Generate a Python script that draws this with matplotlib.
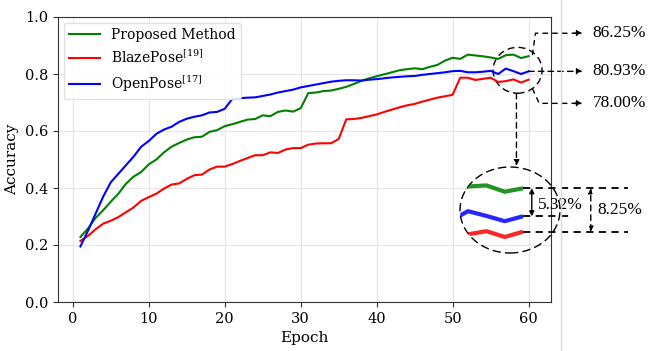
import matplotlib
matplotlib.use("Agg")
import matplotlib.pyplot as plt
import numpy as np
from matplotlib.lines import Line2D
from matplotlib.patches import Ellipse

# accuracy per epoch
epochs = np.arange(1, 61)
proposed = [0.228, 0.258, 0.295, 0.322, 0.352, 0.38, 0.415, 0.44, 0.456, 0.483,
            0.5, 0.525, 0.545, 0.558, 0.57, 0.578, 0.58, 0.597, 0.603, 0.617,
            0.624, 0.632, 0.64, 0.642, 0.655, 0.652, 0.667, 0.672, 0.668, 0.68,
            0.733, 0.735, 0.74, 0.742, 0.748, 0.755, 0.765, 0.776, 0.785, 0.792,
            0.799, 0.806, 0.813, 0.817, 0.82, 0.817, 0.825, 0.832, 0.847, 0.857,
            0.853, 0.868, 0.865, 0.862, 0.858, 0.853, 0.866, 0.868, 0.856, 0.8625]
blazepose = [0.214, 0.232, 0.255, 0.275, 0.285, 0.298, 0.315, 0.332, 0.355, 0.368,
             0.38, 0.398, 0.412, 0.416, 0.432, 0.445, 0.447, 0.465, 0.475, 0.475,
             0.484, 0.495, 0.505, 0.515, 0.515, 0.525, 0.523, 0.535, 0.54, 0.54,
             0.552, 0.556, 0.557, 0.557, 0.572, 0.641, 0.642, 0.646, 0.652, 0.658,
             0.667, 0.675, 0.683, 0.69, 0.695, 0.703, 0.71, 0.717, 0.722, 0.727,
             0.787, 0.787, 0.779, 0.783, 0.787, 0.772, 0.775, 0.781, 0.77, 0.78]
openpose = [0.195, 0.25, 0.31, 0.37, 0.42, 0.45, 0.48, 0.51, 0.545, 0.565,
            0.59, 0.605, 0.615, 0.632, 0.643, 0.65, 0.655, 0.665, 0.667, 0.678,
            0.713, 0.715, 0.717, 0.718, 0.723, 0.728, 0.735, 0.74, 0.745, 0.753,
            0.758, 0.763, 0.768, 0.773, 0.776, 0.778, 0.778, 0.777, 0.78, 0.782,
            0.785, 0.788, 0.79, 0.792, 0.793, 0.797, 0.8, 0.803, 0.806, 0.81,
            0.811, 0.806, 0.806, 0.808, 0.811, 0.8, 0.819, 0.81, 0.8, 0.8093]

series = [
    ("Proposed Method", proposed, "green"),
    (r"BlazePose$^{[19]}$", blazepose, "red"),
    (r"OpenPose$^{[17]}$", openpose, "blue"),
]

plt.rcParams["font.family"] = "DejaVu Serif"
plt.rcParams["mathtext.fontset"] = "dejavuserif"
ann_font = "Liberation Serif"
ann_size = 12.5
dash = (0, (4, 3))

fig = plt.figure(figsize=(6.5, 3.51), dpi=100)
ax = fig.add_axes([58 / 650, 1 - 302 / 351, 493 / 650, 285 / 351])

for name, ys, col in series:
    ax.plot(epochs, ys, color=col, lw=1.5, label=name)

ax.set_xlim(-1.95, 62.95)
ax.set_ylim(0, 1.0)
ax.autoscale(False)
ax.set_xticks(range(0, 61, 10))
ax.set_yticks(np.arange(0, 1.01, 0.2))
ax.grid(True, color="#e6e6e6", lw=0.8)
ax.set_axisbelow(True)
for s in ax.spines.values():
    s.set_color("#333333")
ax.tick_params(labelsize=10.5, length=3.5, color="#333333")
ax.set_xlabel("Epoch", fontsize=11)
ax.set_ylabel("Accuracy", fontsize=11)
ax.legend(loc="upper left", fontsize=10, handlelength=2.2, framealpha=0.9,
          edgecolor="#dddddd", borderaxespad=0.4)

# dashed circle around the last epochs
ax.add_patch(Ellipse((58.55, 0.813), 6.45, 0.161, fill=False, ec="black",
                     lw=1, ls=(0, (5, 3)), clip_on=False))

# value callouts on the right
g_end, o_end, b_end = proposed[-1], openpose[-1], blazepose[-1]
x_tip, x_txt = 67.1, 68.4
head = dict(arrowstyle="-|>", color="black", lw=1, ls=dash, mutation_scale=8,
            shrinkA=0, shrinkB=0)

ax.plot([60.5, 60.9, 66.6], [0.866, 0.943, 0.943], color="black", lw=1,
        ls=dash, clip_on=False)
ax.annotate("", xy=(x_tip, 0.943), xytext=(66.0, 0.943), arrowprops=head,
            annotation_clip=False)
ax.text(x_txt, 0.943, f"{g_end * 100:.2f}%", va="center", fontsize=ann_size,
        family=ann_font, clip_on=False)

ax.annotate("", xy=(x_tip, o_end), xytext=(60.0, o_end), arrowprops=head,
            annotation_clip=False)
ax.text(x_txt, o_end, f"{o_end * 100:.2f}%", va="center", fontsize=ann_size,
        family=ann_font, clip_on=False)

ax.plot([60.5, 61.4, 66.6], [0.749, 0.697, 0.697], color="black", lw=1,
        ls=dash, clip_on=False)
ax.annotate("", xy=(x_tip, 0.697), xytext=(66.0, 0.697), arrowprops=head,
            annotation_clip=False)
ax.text(x_txt, 0.697, f"{b_end * 100:.2f}%", va="center", fontsize=ann_size,
        family=ann_font, clip_on=False)

# arrow down to magnified lens
ax.annotate("", xy=(58.4, 0.478), xytext=(58.4, 0.732), arrowprops=head,
            annotation_clip=False)

# magnified lens
lens = fig.add_axes([460 / 650, 1 - 253 / 351, 100 / 650, 86 / 351])
lens.axis("off")
lens.set_xlim(56.56, 62.02)
lens.set_ylim(0.7395, 0.903)
lens.autoscale(False)
rim = Ellipse((0.5, 0.5), 1, 1, transform=lens.transAxes, fill=False,
              ec="black", lw=1, ls=(0, (6, 3)), clip_on=False)
lens.add_patch(rim)
for name, ys, col in series:
    ln, = lens.plot(epochs, ys, color=col, lw=3, alpha=0.85,
                    solid_capstyle="butt")
    ln.set_clip_path(rim)

lens.plot([60, 65.74], [g_end, g_end], color="black", lw=1.3, ls=dash,
          clip_on=False)
lens.plot([60, 62.57], [o_end, o_end], color="black", lw=1.3, ls=dash,
          clip_on=False)
lens.plot([60, 65.74], [b_end, b_end], color="black", lw=1.3, ls=dash,
          clip_on=False)

dbl = dict(arrowstyle="<|-|>", color="black", lw=1, mutation_scale=7,
           shrinkA=0, shrinkB=0)
lens.annotate("", xy=(60.48, g_end), xytext=(60.48, o_end), arrowprops=dbl,
              annotation_clip=False)
lens.text(60.82, (g_end + o_end) / 2 - 0.005, f"{(g_end - o_end) * 100:.2f}%",
          va="center", fontsize=ann_size, family=ann_font, clip_on=False)
lens.annotate("", xy=(63.7, g_end), xytext=(63.7, b_end),
              arrowprops=dict(dbl, ls=dash), annotation_clip=False)
lens.text(64.04, (g_end + b_end) / 2, f"{(g_end - b_end) * 100:.2f}%",
          va="center", fontsize=ann_size, family=ann_font, clip_on=False)

# thin page border line on the right
fig.add_artist(Line2D([561 / 650, 561 / 650], [0, 1], color="#d9d9d9", lw=1))

fig.savefig("out.png", dpi=100)
